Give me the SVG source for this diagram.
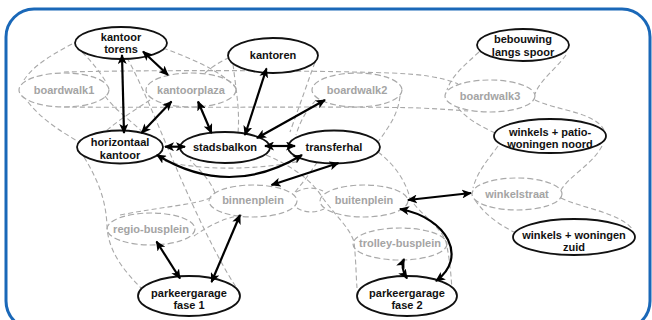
<svg xmlns="http://www.w3.org/2000/svg" width="652" height="320" viewBox="0 0 652 320">
<style>
.hull{fill:none;stroke:#a9a9a9;stroke-width:1.1;stroke-dasharray:5 3}
.g ellipse{fill:none;stroke:#a9a9a9;stroke-width:1.2;stroke-dasharray:6 3}
.g text{fill:#a4a4a4}
.b ellipse{fill:#fff;stroke:#111;stroke-width:1.8}
.b text{fill:#111}
text{font-family:"Liberation Sans",Arial,sans-serif;font-weight:bold;font-size:11px;text-anchor:middle}
.arr{fill:none;stroke:#000;stroke-width:2.2;marker-start:url(#ah);marker-end:url(#ah)}
</style>
<defs>
<marker id="ah" viewBox="0 0 10 9" markerUnits="userSpaceOnUse" markerWidth="10" markerHeight="9" refX="9" refY="4.5" orient="auto-start-reverse">
<path d="M0,0 L10,4.5 L0,9 L2.5,4.5 z" fill="#000"/>
</marker>
</defs>
<rect x="0" y="0" width="652" height="320" fill="#fff"/>
<rect x="6" y="9" width="644" height="320" rx="28" fill="none" stroke="#1a68b8" stroke-width="3"/>

<g id="hulls">
<path class="hull" d="M64,72 C150,70 300,70 390,73 C420,74 442,77 458,84"/>
<path class="hull" d="M64,107 C200,108 350,106 420,108 C440,109 455,110 468,111"/>
<path class="hull" d="M79,40 C58,52 36,62 24,80"/>
<path class="hull" d="M28,102 C42,120 62,132 79,142"/>
<path class="hull" d="M82,52 C92,62 100,72 106,82"/>
<path class="hull" d="M105,96 C115,110 130,120 145,134"/>
<path class="hull" d="M150,100 C135,110 118,120 104,133"/>
<path class="hull" d="M84,157 C98,180 106,200 107,226 C108,252 125,272 143,290"/>
<path class="hull" d="M127,58 C140,80 160,130 175,165 C190,200 215,255 236,287"/>
<path class="hull" d="M163,48 C190,58 220,70 236,88"/>
<path class="hull" d="M205,73 C215,64 224,60 230,57"/>
<path class="hull" d="M233,64 C236,90 240,110 238,133"/>
<path class="hull" d="M315,62 C305,90 298,110 290,132"/>
<path class="hull" d="M316,100 C305,112 300,122 296,135"/>
<path class="hull" d="M400,96 C398,115 388,128 378,142"/>
<path class="hull" d="M165,161 C200,171 260,170 300,161"/>
<path class="hull" d="M215,193 C210,180 200,170 190,160"/>
<path class="hull" d="M295,192 C305,180 312,170 318,161"/>
<path class="hull" d="M120,215 C160,207 195,205 213,197"/>
<path class="hull" d="M194,236 C210,225 225,217 245,215"/>
<path class="hull" d="M296,192 C305,187 315,187 323,191"/>
<path class="hull" d="M297,208 C305,213 315,213 324,209"/>
<path class="hull" d="M266,155 C290,165 312,180 322,197 C335,215 350,228 354,242 C356,260 356,275 357,288"/>
<path class="hull" d="M378,152 C395,165 405,180 410,198 C420,215 440,225 446,242 C450,260 451,275 452,290"/>
<path class="hull" d="M479,52 C465,65 452,75 447,90"/>
<path class="hull" d="M566,55 C555,70 540,80 535,94"/>
<path class="hull" d="M458,108 C470,122 485,128 497,134"/>
<path class="hull" d="M535,100 C555,110 595,112 604,130"/>
<path class="hull" d="M498,146 C488,160 478,170 473,188"/>
<path class="hull" d="M602,146 C592,165 570,175 561,190"/>
<path class="hull" d="M475,200 C485,215 500,225 514,232"/>
<path class="hull" d="M561,198 C580,208 620,212 633,230"/>
</g>

<g id="boardwalk1" class="g"><ellipse cx="64" cy="90" rx="45" ry="17"/><text x="64" y="94">boardwalk1</text></g>
<g id="kantoorplaza" class="g"><ellipse cx="191" cy="90" rx="45" ry="17"/><text x="191" y="94">kantoorplaza</text></g>
<g id="boardwalk2" class="g"><ellipse cx="357" cy="90" rx="45" ry="17"/><text x="357" y="94">boardwalk2</text></g>
<g id="boardwalk3" class="g"><ellipse cx="490" cy="96" rx="45" ry="16"/><text x="490" y="100">boardwalk3</text></g>
<g id="binnenplein" class="g"><ellipse cx="253" cy="201" rx="44" ry="16"/><text x="253" y="204">binnenplein</text></g>
<g id="buitenplein" class="g"><ellipse cx="364" cy="201" rx="44" ry="16"/><text x="364" y="204">buitenplein</text></g>
<g id="regio-busplein" class="g"><ellipse cx="151" cy="229" rx="44" ry="16"/><text x="151" y="233">regio-busplein</text></g>
<g id="trolley-busplein" class="g"><ellipse cx="400" cy="244" rx="47" ry="16"/><text x="400" y="247">trolley-busplein</text></g>
<g id="winkelstraat" class="g"><ellipse cx="517" cy="194" rx="45" ry="16"/><text x="517" y="198">winkelstraat</text></g>

<g id="kantoor-torens" class="b"><ellipse cx="121" cy="43" rx="46" ry="16"/><text x="121" y="40.5">kantoor</text><text x="121" y="53">torens</text></g>
<g id="kantoren" class="b"><ellipse cx="273" cy="55.5" rx="45" ry="17.5"/><text x="273" y="59">kantoren</text></g>
<g id="bebouwing-langs-spoor" class="b"><ellipse cx="523" cy="45" rx="46" ry="16"/><text x="523" y="43">bebouwing</text><text x="523" y="55.5">langs spoor</text></g>
<g id="horizontaal-kantoor" class="b"><ellipse cx="120" cy="147" rx="43" ry="16.5"/><text x="120" y="145.5">horizontaal</text><text x="120" y="159">kantoor</text></g>
<g id="stadsbalkon" class="b"><ellipse cx="225" cy="147.5" rx="45" ry="15.5"/><text x="225" y="151">stadsbalkon</text></g>
<g id="transferhal" class="b"><ellipse cx="334" cy="147" rx="46" ry="16.5"/><text x="334" y="151">transferhal</text></g>
<g id="winkels-patiowoningen-noord" class="b"><ellipse cx="550" cy="136" rx="56" ry="17"/><text x="550" y="135.5">winkels + patio-</text><text x="550" y="148">woningen noord</text></g>
<g id="winkels-woningen-zuid" class="b"><ellipse cx="574" cy="237" rx="61" ry="18"/><text x="574" y="239">winkels + woningen</text><text x="574" y="251">zuid</text></g>
<g id="parkeergarage-fase-1" class="b"><ellipse cx="189" cy="296" rx="51" ry="20"/><text x="189" y="296.5">parkeergarage</text><text x="189" y="309">fase 1</text></g>
<g id="parkeergarage-fase-2" class="b"><ellipse cx="407" cy="296" rx="50" ry="20"/><text x="407" y="296.5">parkeergarage</text><text x="407" y="309">fase 2</text></g>

<g id="connectors">
<path class="arr" d="M122,55 L124,133"/>
<path class="arr" d="M143,51.5 L168,75"/>
<path class="arr" d="M171.5,101.5 L141.5,133"/>
<path class="arr" d="M198,101.5 L211.5,133"/>
<path class="arr" d="M266.5,68.5 L245,135"/>
<path class="arr" d="M325,100 L257,138"/>
<path class="arr" d="M165,146.7 L185,146.7"/>
<path class="arr" d="M265,146 L295,146"/>
<path class="arr" d="M157,155 Q229,199 302,155"/>
<path class="arr" d="M271.5,185 L338.5,163"/>
<path class="arr" d="M240,215 L211.5,282"/>
<path class="arr" d="M156.5,241.5 L180,278.5"/>
<path class="arr" d="M408,200 L471,193"/>
<path class="arr" d="M400,209 C448,218 468,258 436,281"/>
<path class="arr" d="M404,259 Q400,268 407,278.5"/>
</g>
</svg>
